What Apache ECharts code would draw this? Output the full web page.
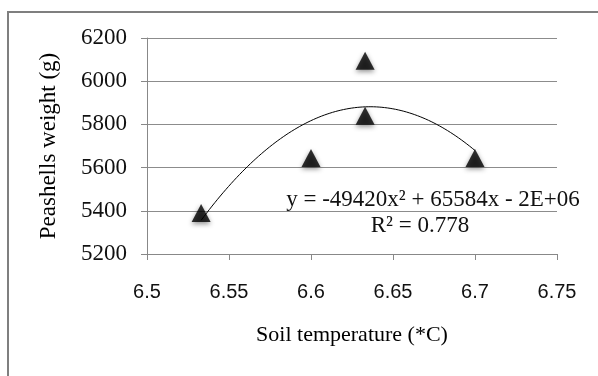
<!DOCTYPE html>
<html><head><meta charset="utf-8">
<script src="https://cdn.jsdelivr.net/npm/echarts@6/dist/echarts.min.js"></script>
<style>html,body{margin:0;padding:0;background:#fff}#c{width:598px;height:376px}</style>
</head><body><div id="c"></div>
<script>
var temps = [6.533, 6.6, 6.633, 6.633, 6.7];
var weights = [5390, 5645, 6095, 5840, 5645];
var xTicks = [6.5, 6.55, 6.6, 6.65, 6.7, 6.75];
var yTicks = [5200, 5400, 5600, 5800, 6000, 6200];
var eqText = 'y = -49420x² + 65584x - 2E+06';
var r2Text = 'R² = 0.778';

// least-squares quadratic trendline from the data
function quadFit(xs, ys) {
  var n = xs.length, m = 0;
  for (var i = 0; i < n; i++) m += xs[i];
  m /= n;
  var S = [0,0,0,0,0], T = [0,0,0];
  for (i = 0; i < n; i++) {
    var u = xs[i] - m, p = 1;
    for (var k = 0; k < 5; k++) { S[k] += p; if (k < 3) T[k] += p * ys[i]; p *= u; }
  }
  var M = [[S[0],S[1],S[2],T[0]],[S[1],S[2],S[3],T[1]],[S[2],S[3],S[4],T[2]]];
  for (var c = 0; c < 3; c++) {
    for (var r = c + 1; r < 3; r++) {
      var f = M[r][c] / M[c][c];
      for (var j = c; j < 4; j++) M[r][j] -= f * M[c][j];
    }
  }
  var coef = [0,0,0];
  for (r = 2; r >= 0; r--) {
    var s = M[r][3];
    for (j = r + 1; j < 3; j++) s -= M[r][j] * coef[j];
    coef[r] = s / M[r][r];
  }
  return function (x) { var u = x - m; return coef[0] + coef[1]*u + coef[2]*u*u; };
}
var fit = quadFit(temps, weights);
var xmin = Math.min.apply(null, temps), xmax = Math.max.apply(null, temps);
var trend = [];
for (var i = 0; i <= 100; i++) { var x = xmin + (xmax - xmin) * i / 100; trend.push([x, fit(x)]); }

var chart = echarts.init(document.getElementById('c'));
chart.setOption({
  animation: false,
  backgroundColor: '#fff',
  grid: { left: 147, right: 41, top: 38, bottom: 122 },
  xAxis: {
    type: 'value', min: xTicks[0], max: xTicks[xTicks.length-1], interval: 0.05,
    name: 'Soil temperature (*C)', nameLocation: 'middle', nameGap: 70,
    nameTextStyle: { fontFamily: 'Liberation Serif', fontSize: 22, color: '#000' },
    axisLine: { show: true, lineStyle: { color: '#888', width: 1 } },
    axisTick: { show: true, length: 6, lineStyle: { color: '#888' } },
    axisLabel: { fontFamily: 'Liberation Sans', fontSize: 20, color: '#111', margin: 28,
      formatter: function (v) { return String(+v.toFixed(2)); } },
    splitLine: { show: false }
  },
  yAxis: {
    type: 'value', min: yTicks[0], max: yTicks[yTicks.length-1], interval: 200,
    name: 'Peashells weight (g)', nameLocation: 'middle', nameGap: 87, nameRotate: 90,
    nameTextStyle: { fontFamily: 'Liberation Serif', fontSize: 23, color: '#000' },
    axisLine: { show: true, lineStyle: { color: '#888', width: 1 } },
    axisTick: { show: true, length: 6, lineStyle: { color: '#888' } },
    axisLabel: { fontFamily: 'Liberation Serif', fontSize: 23, color: '#111', margin: 20,
      formatter: function (v) { return String(v); } },
    splitLine: { show: true, lineStyle: { color: '#8c8c8c', width: 1 } }
  },
  graphic: [
    { type: 'rect', shape: { x: 8, y: 12, width: 620, height: 400 }, z: -10,
      style: { fill: 'none', stroke: '#7f7f7f', lineWidth: 2 } },
    { type: 'text', x: 433, y: 200, z: 50,
      style: { text: eqText, fontFamily: 'Liberation Serif', fontSize: 23, fill: '#111',
        align: 'center', verticalAlign: 'middle' } },
    { type: 'text', x: 420, y: 226, z: 50,
      style: { text: r2Text, fontFamily: 'Liberation Serif', fontSize: 23, fill: '#111',
        align: 'center', verticalAlign: 'middle' } }
  ],
  series: [
    { type: 'line', data: trend, showSymbol: false, smooth: false, z: 2,
      lineStyle: { color: '#000', width: 1 } },
    { type: 'scatter', data: temps.map(function (t, i) { return [t, weights[i]]; }),
      symbol: 'triangle', symbolSize: [19, 18], z: 3,
      itemStyle: { color: '#000', shadowBlur: 5, shadowColor: 'rgba(0,0,0,0.55)', shadowOffsetY: 2 } }
  ]
});
</script></body></html>
